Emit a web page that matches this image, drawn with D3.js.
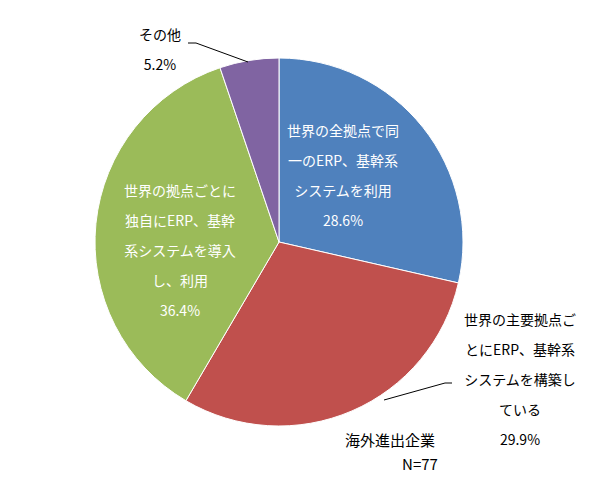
<!DOCTYPE html><html><head><meta charset="utf-8"><script src="https://cdn.jsdelivr.net/npm/d3@7"></script>
<style>body{margin:0;background:#fff}text{font-family:"Noto Sans CJK JP",sans-serif}</style></head><body><svg width="590" height="486"></svg><script>
const categories=["世界の全拠点で同一のERP、基幹系システムを利用","世界の主要拠点ごとにERP、基幹系システムを構築している","世界の拠点ごとに独自にERP、基幹系システムを導入し、利用","その他"];
const values=[28.6,29.9,36.4,5.2];
const labelLines=[["世界の全拠点で同","一のERP、基幹系","システムを利用","28.6%"],["世界の主要拠点ご","とにERP、基幹系","システムを構築し","ている","29.9%"],["世界の拠点ごとに","独自にERP、基幹","系システムを導入","し、利用","36.4%"],["その他","5.2%"]];
const colors=["#4f81bd","#c0504d","#9bbb59","#8064a2"];
const svg=d3.select("svg"),cx=279,cy=242,r=184;
const arcs=d3.pie().sort(null).value(d=>d)(values);
const g=svg.append("g").attr("transform",`translate(${cx},${cy})`);
g.selectAll("path").data(arcs).join("path").attr("d",d3.arc().innerRadius(0).outerRadius(r)).attr("fill",(d,i)=>colors[i]).attr("stroke","#fff").attr("stroke-width",1);
const pos=[[343,136,"#fff"],[520,325,"#000"],[180,196,"#fff"],[160,40,"#000"]];
labelLines.forEach((ls,i)=>{const t=svg.append("text").attr("text-anchor","middle").attr("font-size",14).attr("fill",pos[i][2]);
ls.forEach((l,j)=>t.append("tspan").attr("x",pos[i][0]).attr("y",pos[i][1]+j*30).text(l));});
// leader lines
svg.append("path").attr("d","M188,43 L196,43 L248,62").attr("stroke","#000").attr("fill","none");
svg.append("path").attr("d","M452,383 L445,383 L384,400").attr("stroke","#000").attr("fill","none");
svg.append("text").attr("x",390).attr("y",446).attr("text-anchor","middle").attr("font-size",15).text("海外進出企業");
svg.append("text").attr("x",420).attr("y",470).attr("text-anchor","middle").attr("font-size",15).text("N=77");
</script></body></html>
